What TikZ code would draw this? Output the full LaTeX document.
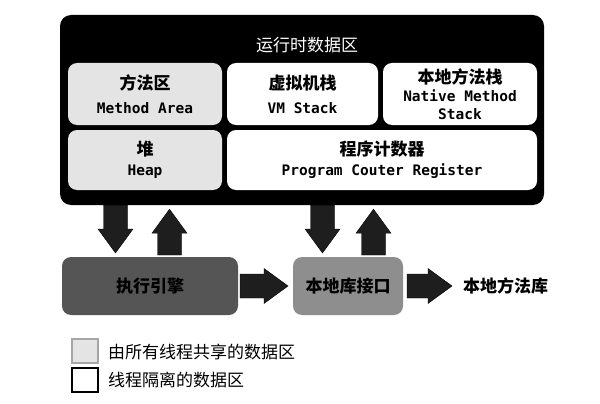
\documentclass[tikz,border=0pt]{standalone}
\usepackage{fontspec}
\setmainfont{Liberation Sans}
\newfontfamily\cn{Noto Sans CJK SC}
\newfontfamily\en{DejaVu Sans Mono}
\usetikzlibrary{calc}
\definecolor{sharedc}{HTML}{E4E4E4}
\definecolor{arrowc}{HTML}{1E1E1E}
\definecolor{enginec}{HTML}{555555}
\definecolor{nativec}{HTML}{8E8E8E}
\begin{document}
\begin{tikzpicture}[x=1pt,y=-1pt,
  box/.style={rounded corners=9pt, inner sep=0pt, outer sep=0pt, align=center, text=black,
    font=\cn\bfseries\fontsize{17pt}{24pt}\selectfont},
  sharedbox/.style={box, fill=sharedc},
  privbox/.style={box, fill=white},
  blockarrow/.style={fill=arrowc, to path={
    ($(\tikztostart)!12pt!90:(\tikztotarget)$) --
    ($($(\tikztotarget)!24pt!(\tikztostart)$)!12pt!-90:(\tikztostart)$) --
    ($($(\tikztotarget)!24pt!(\tikztostart)$)!17.5pt!-90:(\tikztostart)$) --
    (\tikztotarget) --
    ($($(\tikztotarget)!24pt!(\tikztostart)$)!17.5pt!90:(\tikztostart)$) --
    ($($(\tikztotarget)!24pt!(\tikztostart)$)!12pt!90:(\tikztostart)$) --
    ($(\tikztostart)!12pt!-90:(\tikztotarget)$) -- cycle}},
  plain/.style={inner sep=0pt, font=\cn\bfseries\fontsize{17pt}{20pt}\selectfont, text=black},
  legbox/.style={minimum width=26pt, minimum height=24pt, inner sep=0pt, line width=1.2pt}
]
\useasboundingbox[fill=white] (0,0) rectangle (600,404);

% runtime data area
\node[fill=black, rounded corners=11pt, minimum width=484pt, minimum height=190pt, inner sep=0pt] (rt) at (302,110) {};
\node[text=white, inner sep=0pt, font=\cn\fontsize{17pt}{20pt}\selectfont] (rtt) at (307,45) {运行时数据区};

\node[sharedbox, minimum width=154pt, minimum height=62pt, text depth=0pt] (ma) at (145,94)
  {\raisebox{0pt}{方法区}\\{\en\bfseries\fontsize{14.5pt}{24pt}\selectfont Method Area}};
\node[privbox, minimum width=151pt, minimum height=62pt] (vm) at (302.5,94)
  {虚拟机栈\\{\en\bfseries\fontsize{14.5pt}{24pt}\selectfont VM Stack}};
\node[privbox, minimum width=154pt, minimum height=62pt, font=\cn\bfseries\fontsize{17pt}{18pt}\selectfont] (nm) at (460,94)
  {本地方法栈\\{\en\bfseries\fontsize{14.5pt}{16.5pt}\selectfont Native Method}\\{\en\bfseries\fontsize{14.5pt}{16.5pt}\selectfont Stack}};
\node[sharedbox, minimum width=154pt, minimum height=60pt, font=\cn\bfseries\fontsize{17pt}{20pt}\selectfont] (hp) at (145,160)
  {堆\\{\en\bfseries\fontsize{14.5pt}{20pt}\selectfont Heap}};
\node[privbox, minimum width=310pt, minimum height=60pt, font=\cn\bfseries\fontsize{17pt}{20pt}\selectfont] (pc) at (382,160)
  {程序计数器\\{\en\bfseries\fontsize{14.5pt}{20pt}\selectfont Program Couter Register}};

% lower row
\node[box, fill=enginec, minimum width=176pt, minimum height=58pt] (ee) at (150,286) {执行引擎};
\node[box, fill=nativec, minimum width=110pt, minimum height=58pt] (ni) at (348,286) {本地库接口};
\node[plain, anchor=west] (nl) at (463,286) {本地方法库};

% arrow end points
\coordinate (d1s) at (rt.south -| 115.5,0);
\coordinate (d1t) at ($(ee.north -| 115.5,0)+(0,-4)$);
\coordinate (u1s) at ($(ee.north -| 169.5,0)+(0,-2)$);
\coordinate (u1t) at ($(rt.south -| 169.5,0)+(0,4)$);
\coordinate (d2s) at (rt.south -| 322.5,0);
\coordinate (d2t) at ($(ni.north -| 322.5,0)+(0,-4)$);
\coordinate (u2s) at ($(ni.north -| 373.5,0)+(0,-2)$);
\coordinate (u2t) at ($(rt.south -| 373.5,0)+(0,4)$);
\coordinate (r1s) at ($(ee.east)+(2,0)$);
\coordinate (r1t) at ($(ni.west)+(-5,0)$);
\coordinate (r2s) at ($(ni.east)+(4,0)$);
\coordinate (r2t) at ($(nl.west)+(-11,0)$);

\draw[blockarrow] (d1s) to (d1t);
\draw[blockarrow] (u1s) to (u1t);
\draw[blockarrow] (d2s) to (d2t);
\draw[blockarrow] (u2s) to (u2t);
\draw[blockarrow] (r1s) to (r1t);
\draw[blockarrow] (r2s) to (r2t);

% legend
\node[legbox, fill=sharedc, draw=black!35] (lg1) at (85,351) {};
\node[legbox, fill=white, draw=black] (lg2) at (85,380) {};
\node[plain, font=\cn\fontsize{17pt}{20pt}\selectfont, anchor=west] (lt1) at (108,352) {由所有线程共享的数据区};
\node[plain, font=\cn\fontsize{17pt}{20pt}\selectfont, anchor=west] (lt2) at (108,380) {线程隔离的数据区};
\end{tikzpicture}
\end{document}
